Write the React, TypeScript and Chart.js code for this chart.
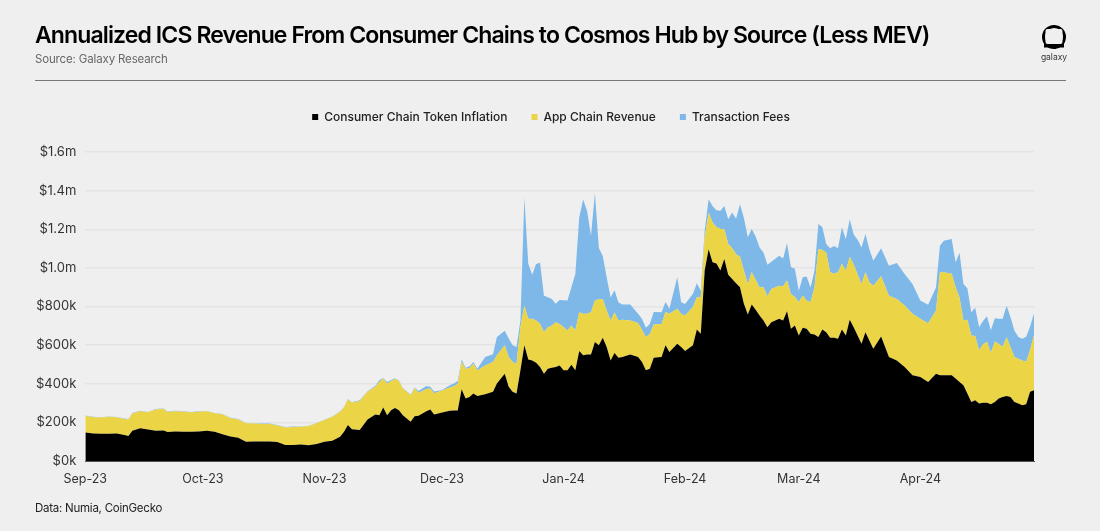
import React, { useEffect, useRef } from "react";
import { Chart, registerables } from "chart.js";

Chart.register(...registerables);

const FONT = "Inter, 'Noto Sans', sans-serif";
const seriesNames = ["Consumer Chain Token Inflation", "App Chain Revenue", "Transaction Fees"];
const seriesColors = ["#000000", "#ebd445", "#7db8e8"];
const monthDays = [0, 30, 61, 91, 122, 153, 182, 213];
const monthLabels = ["Sep-23", "Oct-23", "Nov-23", "Dec-23", "Jan-24", "Feb-24", "Mar-24", "Apr-24"];

// day index since 1 Sep 2023
const days = [
  0,2,4,6,8,10,11,12,14,16,18,20,21,23,25,27,29,31,33,35,37,39,41,43,45,47,49,51,53,55,57,59,61,63,65,66,67,68,70,72,74,75,76,77,78,79,80,81,83,84,85,87,88,89,91,93,94,95,96,97,98,99,100,102,104,105,107,108,109,110,111,112,113,114,115,116,117,118,119,120,
  121,122,123,124,125,126,127,128,129,130,131,132,133,134,135,136,137,139,141,142,143,144,145,147,148,149,151,152,153,155,156,157,158,159,160,161,162,163,164,165,166,167,168,169,170,171,172,173,174,175,177,178,179,180,181,182,183,184,185,186,187,188,189,190,191,192,193,194,195,196,197,198,199,200,201,203,205,207,209,211,213,215,217,218,219,221,222,223,224,225,226,227,228,229,230,231,232,233,234,235,236,237,238,239,240,241,242,
];
// $k
const tokenInflation = [
  148,143,141,141,143,134,129,157,169,163,157,158,150,153,151,151,153,157,151,139,127,120,100,101,101,101,98,83,83,86,81,88,100,105,126,151,186,165,160,215,241,237,277,237,263,275,263,237,203,232,234,258,267,241,251,260,261,261,372,323,332,349,337,346,358,401,452,384,358,349,470,599,525,521,509,487,452,478,483,487,
  495,470,470,499,470,569,547,552,552,616,599,638,590,521,559,535,538,552,538,513,470,478,535,538,599,564,607,590,569,599,681,659,986,1097,1029,1023,986,1046,965,943,920,900,814,759,810,783,753,728,693,719,736,728,776,685,702,650,690,685,659,655,642,681,667,638,638,633,681,650,731,693,650,607,667,624,581,645,538,521,487,444,435,409,452,444,444,444,427,409,392,349,306,315,298,301,301,294,306,323,332,337,332,306,298,289,294,358,366,
];
const appChainRevenue = [
  86,84,84,88,83,84,86,89,89,89,110,112,104,105,104,101,102,100,96,103,95,95,95,93,91,91,86,91,93,91,100,107,112,124,129,127,132,136,151,143,143,172,150,163,151,150,151,138,138,146,119,115,108,110,114,120,126,139,141,155,148,155,132,149,155,146,148,155,155,155,224,206,212,215,218,224,215,215,218,232,
  215,224,206,203,206,201,215,210,218,215,239,201,189,206,210,192,194,175,177,167,172,180,172,172,172,198,181,172,184,198,167,189,172,189,206,189,215,155,158,160,151,158,172,158,168,155,146,172,160,172,172,177,158,179,148,172,167,146,163,244,456,411,413,339,332,344,340,335,327,325,316,310,310,301,327,311,318,318,318,318,301,304,327,533,533,525,473,437,335,383,344,332,275,304,316,266,313,284,259,304,258,232,232,232,220,217,287,
];
const transactionFees = [
  2,2,2,2,2,2,2,2,2,2,2,2,2,2,2,2,2,2,2,2,2,2,2,2,2,2,2,2,2,2,2,2,2,2,2,2,3,3,3,3,5,9,3,9,5,3,3,3,3,3,10,15,9,9,3,12,14,14,12,5,9,9,9,43,40,95,74,95,86,86,34,559,284,229,293,315,189,155,138,95,
  124,138,155,198,292,491,592,533,396,557,265,222,172,120,115,94,79,83,48,57,48,52,64,60,52,26,163,60,60,69,72,34,34,69,86,86,95,120,129,184,184,272,272,241,223,224,206,180,163,141,155,143,193,141,146,60,94,124,77,86,129,120,43,125,143,125,189,163,194,155,180,189,198,172,129,146,155,186,163,155,95,96,120,138,163,180,129,232,189,163,120,146,120,120,133,117,120,129,146,163,155,138,112,112,129,120,112,
];
const yTicks = [0, 200, 400, 600, 800, 1000, 1200, 1400, 1600];
const seriesValues = [tokenInflation, appChainRevenue, transactionFees];

function formatMoney(v: number) {
  return v >= 1000 ? `$${(v / 1000).toFixed(1)}m` : `$${v}k`;
}

const legendPlacement = {
  id: "legendPlacement",
  beforeInit(chart: any) {
    const legend = chart.legend;
    const fit = legend.fit;
    legend.fit = function () {
      fit.call(this);
      this.height += 19;
    };
  },
  afterLayout(chart: any) {
    const legend = chart.legend;
    legend.left += 20.5;
    legend.right += 20.5;
  },
};

export default function App() {
  const ref = useRef<HTMLCanvasElement>(null);
  useEffect(() => {
    const chart = new Chart(ref.current!, {
      type: "line",
      plugins: [legendPlacement],
      data: {
        datasets: seriesNames.map((name, s) => ({
          label: name,
          data: days.map((d, i) => ({ x: d, y: seriesValues[s][i] })),
          backgroundColor: seriesColors[s],
          borderColor: seriesColors[s],
          borderWidth: 0,
          pointRadius: 0,
          tension: 0,
          fill: s === 0 ? "origin" : "-1",
        })),
      },
      options: {
        responsive: false,
        animation: false,
        layout: { padding: { top: 87, left: 27, right: 66, bottom: 41 } },
        plugins: {
          tooltip: { enabled: false },
          legend: {
            position: "top",
            align: "center",
            labels: {
              usePointStyle: true,
              pointStyle: "rect",
              boxWidth: 6,
              boxHeight: 6,
              padding: 24,
              color: "#222",
              font: { family: FONT, size: 12, weight: 500 },
            },
          },
        },
        scales: {
          x: {
            type: "linear",
            min: 0,
            max: 242,
            afterBuildTicks: (scale: any) => {
              scale.ticks = monthDays.map((v) => ({ value: v }));
            },
            ticks: {
              autoSkip: false,
              maxRotation: 0,
              padding: 3,
              color: "#333",
              font: { family: FONT, size: 12.5 },
              callback: (_v: any, i: number) => monthLabels[i],
            },
            grid: { display: false },
            border: { display: true, color: "#555", width: 1 },
          },
          y: {
            stacked: true,
            min: 0,
            max: 1600,
            afterBuildTicks: (scale: any) => {
              scale.ticks = yTicks.map((v) => ({ value: v }));
            },
            ticks: {
              padding: 9,
              color: "#333",
              font: { family: FONT, size: 13 },
              callback: (v: any) => formatMoney(Number(v)),
            },
            grid: { color: "#e4e4e4", lineWidth: 1.5, drawTicks: false },
            border: { display: false },
          },
        },
      },
    });
    return () => chart.destroy();
  }, []);

  return (
    <div style={{ position: "absolute", left: 0, top: 0, width: 1100, height: 531, background: "#efefef", overflow: "hidden", fontFamily: FONT }}>
      <canvas ref={ref} width={1100} height={531} style={{ position: "absolute", left: 0, top: 0, display: "block" }} />
      <div style={{ position: "absolute", left: 35, top: 20, fontSize: 23, fontWeight: 600, letterSpacing: -0.88, color: "#000", whiteSpace: "nowrap", lineHeight: "30px" }}>
        Annualized ICS Revenue From Consumer Chains to Cosmos Hub by Source (Less MEV)
      </div>
      <div style={{ position: "absolute", left: 35, top: 51, fontSize: 11.5, letterSpacing: -0.15, color: "#666", whiteSpace: "nowrap", lineHeight: "16px" }}>Source: Galaxy Research</div>
      <div style={{ position: "absolute", left: 35, top: 80, width: 1031, height: 1, background: "#777" }} />
      <svg width={28} height={28} style={{ position: "absolute", left: 1040, top: 23 }} viewBox="0 0 28 28">
        <circle cx={14} cy={14} r={10.5} fill="none" stroke="#000" strokeWidth={3} />
        <rect x={4} y={21} width={20} height={3.5} fill="#000" />
        <rect x={5.5} y={6} width={17} height={15} rx={2} fill="#efefef" />
      </svg>
      <div style={{ position: "absolute", left: 1034, width: 40, textAlign: "center", top: 51, fontSize: 8.5, color: "#333", lineHeight: "12px" }}>galaxy</div>
      <div style={{ position: "absolute", left: 35, top: 500, fontSize: 11.5, letterSpacing: -0.25, color: "#222", whiteSpace: "nowrap", lineHeight: "16px" }}>Data: Numia, CoinGecko</div>
    </div>
  );
}
